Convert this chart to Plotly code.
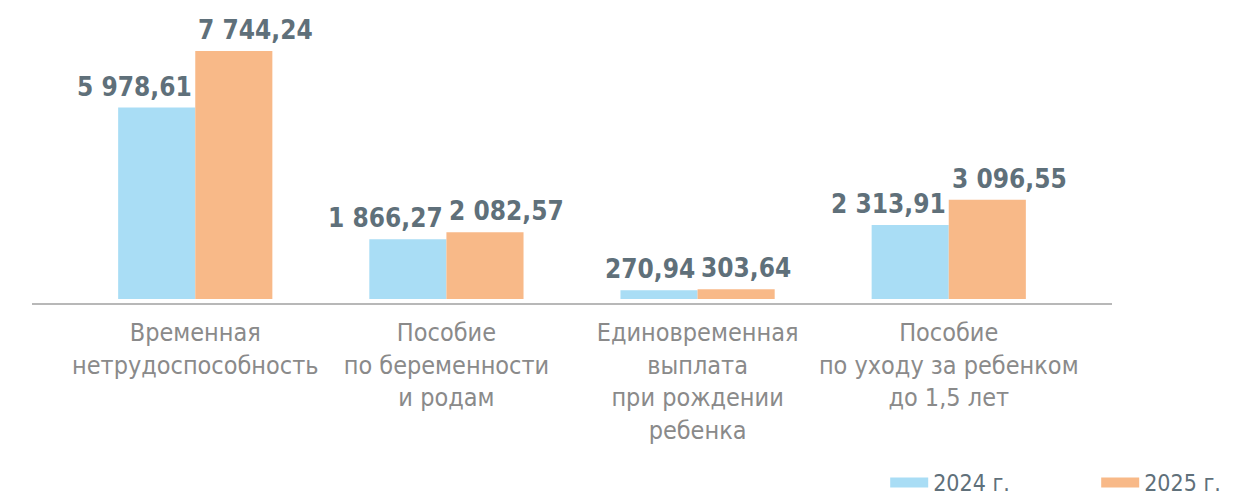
import plotly.graph_objects as go

categories = [
    "Временная<br>нетрудоспособность",
    "Пособие<br>по беременности<br>и родам",
    "Единовременная<br>выплата<br>при рождении<br>ребенка",
    "Пособие<br>по уходу за ребенком<br>до 1,5 лет",
]
series_names = ["2024 г.", "2025 г."]
values_2024 = [5978.61, 1866.27, 270.94, 2313.91]
values_2025 = [7744.24, 2082.57, 303.64, 3096.55]
colors = ["#a9ddf5", "#f8b988"]

def fmt(v):
    s = f"{v:,.2f}"
    return s.replace(",", " ").replace(".", ",")

fig = go.Figure()
for name, vals, col in zip(series_names, [values_2024, values_2025], colors):
    fig.add_trace(go.Bar(x=categories, y=vals, name=name, legendgroup=name, showlegend=False,
                         marker=dict(color=col, line=dict(width=0))))
# legend swatches (wide rectangles like the original)
for name, col in zip(series_names, colors):
    fig.add_trace(go.Scatter(x=[None], y=[None], mode="lines", name=name, legendgroup=name,
                             line=dict(color=col, width=14), hoverinfo="skip"))

VAL_FONT = dict(family="DejaVu Sans Condensed, DejaVu Sans", size=26, color="#5f707a")
for cat, v in zip(categories, values_2024):
    fig.add_annotation(x=cat, y=v, text=f"<b>{fmt(v)}</b>", showarrow=False,
                       xanchor="right", yanchor="bottom", yshift=4, xshift=-1, font=VAL_FONT)
for cat, v in zip(categories, values_2025):
    fig.add_annotation(x=cat, y=v, text=f"<b>{fmt(v)}</b>", showarrow=False,
                       xanchor="left", yanchor="bottom", yshift=4, xshift=1, font=VAL_FONT)

fig.update_layout(
    width=1252, height=497,
    margin=dict(l=24, r=148, t=12, b=202, autoexpand=False),
    plot_bgcolor="white", paper_bgcolor="white",
    barmode="group", bargap=0.386, bargroupgap=0,
    font=dict(family="DejaVu Sans Condensed, DejaVu Sans"),
    showlegend=True,
    legend=dict(orientation="h", x=0.790, xanchor="left", y=-0.71, yanchor="bottom",
                font=dict(size=23, color="#5f707a"), entrywidth=158, entrywidthmode="pixels",
                itemwidth=38, bgcolor="rgba(0,0,0,0)", traceorder="normal"),
    xaxis=dict(showline=True, linecolor="#b8b8b8", linewidth=2, ticks="",
               tickfont=dict(size=25, color="#8a8a8a"), range=[-0.65, 3.65],
               ticklabelstandoff=6, showgrid=False, zeroline=False),
    yaxis=dict(range=[-125, 8712], showgrid=False, zeroline=False, showticklabels=False,
               showline=False),
)

fig.write_html("out.html")
